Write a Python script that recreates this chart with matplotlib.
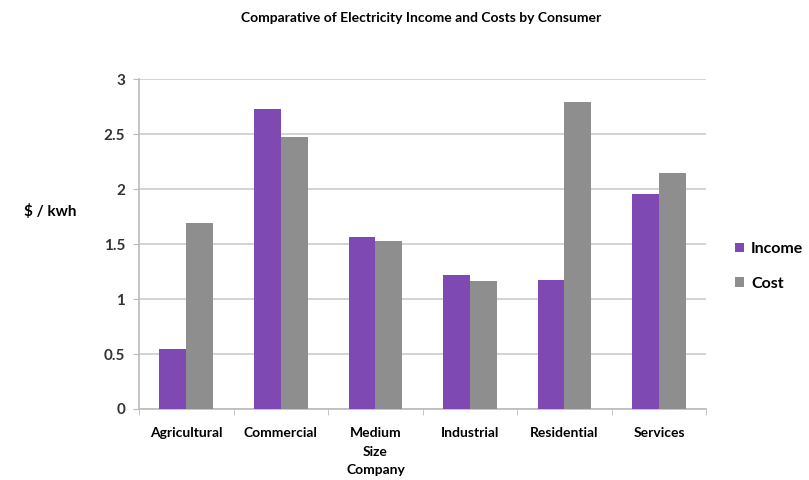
import numpy as np
import matplotlib
matplotlib.use("Agg")
import matplotlib.pyplot as plt

categories = ["Agricultural", "Commercial", "Medium\nSize\nCompany",
              "Industrial", "Residential", "Services"]
income = [0.55, 2.73, 1.56, 1.22, 1.17, 1.96]
cost = [1.69, 2.47, 1.53, 1.16, 2.79, 2.15]

plt.rcParams['font.family'] = ['Lato', 'DejaVu Sans']

fig = plt.figure(figsize=(8.09, 4.8), dpi=100)
ax = fig.add_axes([0.172, 0.148, 0.701, 0.687])

x = np.arange(len(categories))
w = 0.285
ax.bar(x - w / 2, income, w, color="#7F49B3", label="Income", zorder=3)
ax.bar(x + w / 2, cost, w, color="#8E8E8E", label="Cost", zorder=3)

ax.set_xlim(-0.5, len(categories) - 0.5)
ax.set_ylim(0, 3)
ax.set_yticks(np.arange(0, 3.01, 0.5))
ax.set_yticklabels(["0", "0.5", "1", "1.5", "2", "2.5", "3"])
ax.yaxis.grid(True, color="#CCCCCC", linewidth=1.2, zorder=0)

ax.set_xticks(x)
ax.set_xticklabels(categories, fontweight="bold", fontsize=10, va="top",
                   linespacing=1.65)
ax.tick_params(axis="x", which="major", length=0, pad=13)
ax.set_xticks(np.arange(-0.5, len(categories)), minor=True)
ax.tick_params(axis="x", which="minor", length=4, color="#BBBBBB")
ax.tick_params(axis="y", length=4, color="#BBBBBB", labelsize=11, pad=6)
for lab in ax.get_yticklabels():
    lab.set_fontweight("bold")
    lab.set_color("#333333")

for s in ["top", "right"]:
    ax.spines[s].set_visible(False)
for s in ["left", "bottom"]:
    ax.spines[s].set_color("#BBBBBB")
    ax.spines[s].set_linewidth(1.2)

fig.text(0.52, 0.963, "Comparative of Electricity Income and Costs by Consumer",
         ha="center", va="center", fontsize=10, fontweight="bold")
fig.text(0.03, 0.56, "$ / kwh", ha="left", va="center", fontsize=11,
         fontweight="bold")

leg = fig.legend(loc="center left", bbox_to_anchor=(0.891, 0.445), frameon=False,
                 prop={"weight": "bold", "size": 11.5}, handlelength=0.55,
                 handleheight=0.55, handletextpad=0.45, labelspacing=1.3)

fig.savefig("out.png", dpi=100)
